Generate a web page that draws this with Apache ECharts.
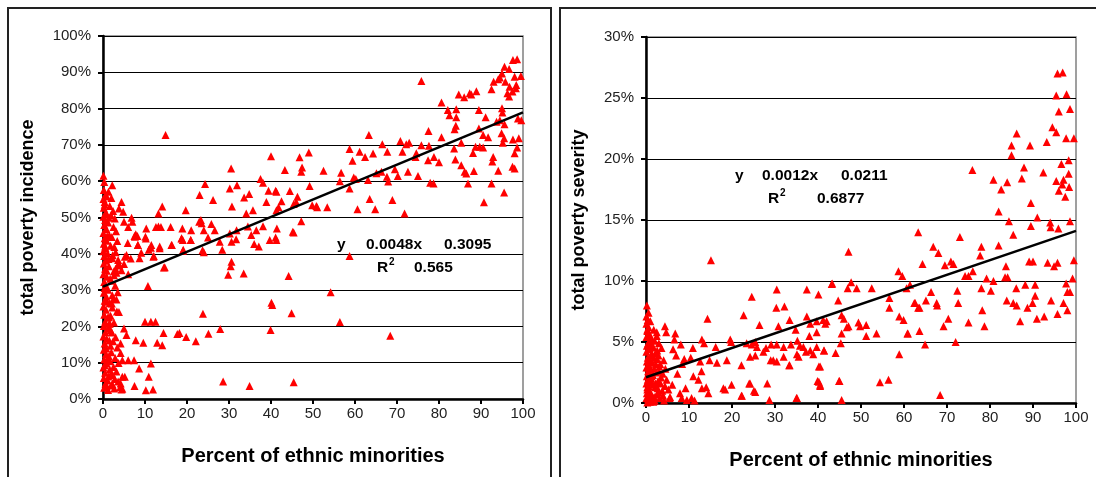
<!DOCTYPE html>
<html>
<head>
<meta charset="utf-8" />
<title>Poverty vs ethnic minorities</title>
<script src="https://cdn.jsdelivr.net/npm/echarts@6/dist/echarts.min.js"></script>
<style>
    html, body { margin: 0; padding: 0; background: #fff; }
    #chart { width: 1096px; height: 477px; }
</style>
</head>
<body>
<div id="chart"></div>
<script>
    // left panel: percent of ethnic minorities vs total poverty incidence (%)
    var incidencePoints = [
        [0.1,61.5],[0.3,59.8],[0.2,57.6],[0.6,56.2],[0.1,55.1],[0.4,54.3],[0.9,55.8],[0.2,52.7],[0.7,51.4],[0.1,50.2],
        [0.5,49.3],[1.2,48.6],[0.3,47.9],[0.8,46.8],[0.1,45.7],[1.5,45.1],[0.4,44.3],[0.9,43.6],[0.2,42.8],[1.8,42.2],
        [0.6,41.5],[0.1,40.7],[1.1,40.1],[0.3,39.4],[2.2,38.8],[0.7,38.1],[0.2,37.3],[1.4,36.6],[0.5,35.9],[2.6,35.2],
        [0.1,34.4],[0.9,33.7],[1.7,33.1],[0.3,32.2],[0.6,31.4],[1.2,30.1],[0.2,29.3],[0.8,28.2],[0.4,27.1],[1.6,26.4],
        [0.1,25.5],[0.7,24.6],[0.3,23.2],[1.1,22.4],[0.5,21.3],[0.2,20.1],[1.3,19.5],[0.6,18.4],[0.1,17.2],[0.9,16.6],
        [0.4,15.3],[1.8,14.7],[0.2,13.6],[0.7,12.4],[1.4,11.8],[0.3,10.9],[0.9,9.8],[0.1,8.7],[1.6,8.1],[0.5,7.2],
        [2.3,6.6],[0.2,5.8],[1.1,5.1],[0.6,4.3],[1.9,3.7],[0.3,3.1],[2.7,2.9],[1.2,2.5],
        [1.3,57.1],[2.0,55.4],[1.6,53.2],[2.4,51.8],[1.9,50.6],[2.8,49.7],[1.4,49.9],[2.5,47.4],[3.1,46.2],[2.1,44.6],
        [3.4,43.5],[2.7,41.9],[3.0,40.4],[2.3,39.6],[3.6,38.3],[3.9,36.8],[4.4,35.5],[3.2,34.8],[2.0,32.6],[2.9,31.2],
        [3.5,29.4],[2.5,27.6],[2.2,25.2],[3.3,24.1],[1.8,22.9],[2.6,21.1],[1.5,20.7],[2.1,18.3],[3.0,17.0],[2.4,15.9],
        [3.4,14.2],[2.0,12.9],[2.9,11.3],[1.7,10.4],[3.7,9.9],[2.5,8.8],[3.2,7.6],[1.9,6.9],[2.8,5.5],[3.6,4.8],
        [2.2,4.1],[4.1,3.3],[0.4,53.5],[0.8,50.8],[1.0,44.9],[0.5,42.0],[1.3,38.6],[0.9,35.3],[0.4,30.6],[1.0,26.8],
        [0.6,20.9],[1.5,16.1],[0.8,13.9],[1.1,11.1],[0.4,9.3],[1.3,6.2],[0.8,3.6],
        [2.2,58.9],[4.4,54.3],[3.8,52.5],[4.8,51.6],[6.8,49.9],[7.0,48.8],[5.0,48.8],[6.0,47.4],[7.8,45.4],[7.6,44.7],
        [5.9,43.0],[8.3,42.4],[10.2,44.2],[5.2,39.2],[6.6,38.7],[5.0,37.2],[3.7,37.3],[3.0,35.9],[2.6,34.1],[6.0,34.4],
        [14.5,36.2],[10.7,31.1],[2.2,28.6],[3.2,27.4],[2.1,26.3],[3.8,24.0],[1.4,22.6],[1.6,20.8],[1.8,19.0],[5.0,19.4],
        [5.6,17.6],[4.2,15.3],[4.2,12.7],[4.6,10.7],[6.0,10.7],[7.4,10.7],[8.6,8.4],[11.4,9.8],[5.2,6.1],[4.2,4.3],
        [4.4,2.6],[7.5,3.6],[10.2,2.4],[11.9,2.6],[10.9,6.1],[10.0,21.3],[11.4,21.3],[12.5,21.3],[7.8,16.2],[9.6,15.5],
        [12.9,15.5],[14.1,14.8],[14.4,18.2],[18.2,18.2],[17.7,17.9],[19.8,17.1],[22.1,15.9],[23.8,23.5],[25.1,18.0],[27.9,19.3],
        [28.6,4.8],[34.9,3.6],[4.6,6.1],[4.6,2.8],
        [14.1,53.0],[13.2,51.1],[19.7,52.0],[12.6,47.4],[13.8,47.4],[16.1,47.4],[18.7,44.2],[19.0,43.8],[20.9,43.8],[8.2,44.9],
        [11.4,41.7],[13.5,41.5],[16.3,42.4],[19.0,40.8],[12.0,39.2],[23.7,41.0],[23.0,56.2],[24.3,59.2],[22.9,48.8],[23.5,48.4],
        [26.2,54.8],[25.8,48.2],[30.5,63.5],[30.2,58.0],[31.9,58.9],[30.7,53.0],[33.6,55.5],[34.8,56.5],[34.1,51.1],[35.7,52.0],
        [37.5,60.6],[38.1,59.6],[38.9,54.3],[40.0,66.9],[39.4,57.4],[41.1,57.4],[41.3,52.0],[38.1,47.6],[23.3,49.3],[10.3,47.0],
        [13.2,47.5],[18.9,47.0],[21.0,46.5],[24.0,46.5],[26.6,46.5],[30.2,45.6],[31.8,46.5],[34.5,47.5],[36.5,46.5],[14.9,72.7],
        [5.6,39.7],[7.5,44.9],[8.3,42.4],[10.1,44.7],[8.7,38.8],[9.1,40.3],[10.9,41.1],[11.5,42.4],[12.1,39.4],[13.5,42.0],
        [14.7,36.3],[16.4,42.4],[18.7,44.3],[19.1,41.1],[20.9,43.8],[24.0,40.4],[25.0,44.5],[27.8,43.3],[28.4,41.1],[30.6,43.3],
        [31.7,44.0],[30.6,37.8],[30.4,36.6],[29.8,34.2],[33.5,34.6],[35.3,45.2],[36.0,42.7],[37.1,42.0],[39.7,43.8],
        [75.8,87.6],[80.6,81.7],[82.1,79.6],[82.5,78.2],[84.1,79.8],[84.1,77.6],[84.7,83.9],[86.0,83.1],[87.3,84.2],[87.7,83.9],
        [88.9,84.8],[89.5,79.6],[91.1,77.6],[92.5,85.3],[93.0,87.4],[94.1,88.1],[94.5,88.6],[95.0,89.7],[95.6,91.5],[96.7,90.9],
        [97.6,93.4],[98.6,93.6],[95.8,87.4],[96.8,86.0],[98.0,88.8],[98.4,86.5],[98.3,85.6],[97.5,84.7],[96.7,83.3],[96.3,84.2],
        [99.5,89.0],[95.0,80.1],[95.1,78.9],[93.7,76.4],[94.5,76.8],[95.6,75.7],[98.8,77.3],[99.6,76.8],[89.5,74.5],[91.7,72.1],
        [90.5,72.7],[94.9,73.2],[95.5,71.8],[95.2,70.6],[97.6,71.5],[99.0,71.8],[98.6,69.3],[98.0,67.7],[88.1,67.8],[88.7,69.5],
        [89.7,69.5],[90.5,69.3],[92.9,66.7],[92.7,65.4],[94.1,62.9],[97.5,64.0],[98.0,63.5],[92.5,59.4],[95.5,56.9],[90.7,54.2],
        [86.9,59.4],[85.3,64.4],[86.1,62.6],[86.5,62.1],[88.3,62.8],[83.9,66.0],[83.6,69.0],[83.7,74.3],[84.0,75.3],[85.3,70.6],
        [80.6,72.1],[80.0,65.2],[77.5,73.8],[77.6,69.8],[77.4,65.8],[78.8,66.7],[77.9,59.6],[78.7,59.4],[75.8,69.9],[74.6,67.7],
        [75.0,61.4],[74.4,66.7],[72.9,70.6],[72.2,70.2],[71.3,68.1],[70.8,71.1],[72.6,62.6],[71.8,51.1],[70.2,61.4],[69.5,63.3],
        [67.6,61.2],[67.9,59.9],[68.9,54.8],[67.7,68.1],[66.5,70.2],[64.3,67.6],[62.4,66.7],[63.3,72.7],[61.1,68.1],[66.3,62.6],
        [65.1,62.2],[63.1,60.3],[63.5,55.1],[64.8,52.3],[58.7,68.9],[59.4,65.6],[59.7,61.0],[60.2,60.6],[56.4,60.0],[56.7,62.3],
        [58.7,58.0],[60.6,52.3],[52.5,62.9],[53.4,52.8],[51.0,52.8],[50.8,53.2],[49.8,53.4],[49.2,58.7],[49.0,67.9],[46.8,66.6],
        [47.4,63.8],[47.2,62.6],[43.3,63.1],[44.5,57.3],[46.3,55.7],[46.0,54.3],[45.4,53.7],[42.5,54.5],[41.8,52.8],[41.3,57.1],
        [41.4,47.0],[47.2,49.0],[45.4,45.9],[41.1,44.5],[41.3,43.8],[45.2,46.1],[58.7,39.4],[44.2,33.9],[54.2,29.4],[40.1,26.5],
        [40.3,25.9],[44.9,23.6],[56.4,21.2],[39.9,19.0],[68.4,17.4],[45.4,4.6]
    ];
    var incidenceSlope = 0.48;      // % per point, y = 0.0048x + 0.3095
    var incidenceIntercept = 30.95;

    // right panel: percent of ethnic minorities vs total poverty severity (%)
    var severityPoints = [
        [0.2,8.0],[0.1,7.1],[0.4,6.8],[0.1,6.5],[0.6,6.2],[0.3,5.9],[0.9,5.6],[0.1,5.4],[1.3,5.2],[0.5,4.9],
        [0.2,4.7],[1.7,4.6],[0.8,4.4],[0.1,4.2],[2.2,4.1],[1.1,3.9],[0.4,3.7],[2.6,3.6],[0.2,3.4],[1.5,3.3],
        [0.7,3.1],[3.1,3.0],[0.1,2.9],[1.9,2.8],[0.5,2.6],[2.4,2.5],[0.9,2.4],[0.2,2.2],[3.5,2.1],[1.2,2.0],
        [0.4,1.9],[2.8,1.8],[0.1,1.6],[1.6,1.5],[0.6,1.4],[2.1,1.3],[0.3,1.1],[3.8,1.0],[1.0,0.9],[0.2,0.8],
        [2.5,0.7],[0.7,0.6],[1.4,0.5],[0.1,0.4],[3.2,0.4],[0.5,0.3],[2.0,0.2],[0.9,0.1],[4.2,0.2],[1.7,0.1],
        [0.3,0.05],[1.0,6.7],[1.8,6.0],[2.5,5.5],[3.0,4.9],[2.0,5.1],[3.6,4.5],[1.4,4.0],[2.9,3.9],[4.1,3.5],
        [3.3,3.2],[4.5,2.8],[2.3,3.2],[1.1,2.7],[3.9,2.4],[4.8,1.9],[1.6,2.3],[2.7,1.2],[4.4,1.4],[3.4,1.6],
        [5.2,1.1],[4.0,0.6],[5.5,0.4],[2.9,0.9],[1.3,1.7],[0.8,3.5],[0.3,6.0],[0.6,7.4],[1.2,4.8],[0.5,5.4],
        [0.9,4.5],[1.8,3.7],[0.6,2.9],[1.3,2.2],[0.3,1.3],[2.2,1.6],[0.8,0.3],[3.0,2.6],[1.9,0.5],[2.6,4.3],
        [15.1,11.7],[14.3,6.9],[2.5,5.8],[4.4,6.3],[4.7,5.8],[6.8,5.7],[24.6,8.7],[22.7,7.2],[30.4,9.3],[30.3,7.8],
        [32.2,7.9],[26.4,6.4],[33.4,6.8],[30.8,6.3],[37.4,9.3],[40.1,8.9],[37.4,7.1],[38.2,6.5],[39.7,6.7],[41.7,6.5],
        [10.9,4.5],[13.0,5.2],[13.5,4.9],[16.2,4.6],[19.6,5.2],[19.8,5.0],[23.4,4.9],[24.6,4.8],[25.4,5.0],[25.8,4.6],
        [27.9,4.5],[29.1,4.8],[30.4,4.8],[32.0,4.6],[33.7,4.8],[35.2,5.1],[35.8,4.7],[36.6,4.6],[37.2,4.2],[39.7,4.6],
        [10.4,3.7],[14.8,3.5],[16.5,3.3],[18.8,3.5],[24.2,3.8],[25.4,3.9],[27.3,4.2],[29.0,3.5],[29.6,3.5],[30.4,3.4],
        [32.0,3.8],[33.4,3.1],[35.1,4.0],[35.5,3.8],[38.2,4.3],[38.9,4.0],[41.4,4.3],[11.0,2.2],[12.2,1.9],[14.0,1.3],
        [13.0,1.2],[14.5,0.8],[18.0,1.2],[18.4,1.1],[19.9,1.5],[22.3,0.6],[24.2,1.6],[25.4,0.9],[28.2,1.6],[28.7,0.25],
        [35.1,0.4],[39.9,1.8],[40.5,1.4],[10.6,0.4],[11.3,0.2],[5.6,0.5],[7.9,0.8],[9.5,0.25],[8.3,0.4],[6.3,4.4],
        [7.0,3.9],[8.4,3.2],[8.9,3.6],[7.3,2.4],[6.1,1.5],[9.2,1.2],[12.6,3.4],[12.9,2.6],[6.6,5.2],[8.1,4.8],
        [95.7,27.0],[96.9,27.1],[95.4,25.2],[97.8,25.3],[96.0,23.9],[98.6,24.1],[94.5,22.6],[95.4,22.2],[97.7,21.7],[99.5,21.7],
        [93.2,21.4],[86.2,22.1],[85.0,21.1],[85.0,20.3],[89.3,21.1],[87.9,19.3],[75.9,19.1],[80.8,18.3],[84.0,18.1],[82.6,17.5],
        [87.4,18.4],[92.4,18.9],[96.6,19.6],[98.3,19.9],[98.3,18.8],[95.4,18.2],[97.1,18.3],[96.8,17.9],[98.4,17.7],[96.0,17.4],
        [97.5,16.9],[89.5,16.4],[82.0,15.7],[84.4,14.9],[91.0,15.2],[89.5,14.5],[94.0,14.8],[94.1,14.4],[95.9,14.3],[98.6,14.9],
        [63.3,14.0],[73.0,13.6],[85.4,13.8],[47.1,12.4],[66.8,12.8],[68.0,12.3],[78.0,12.8],[77.7,12.1],[82.0,12.9],[64.3,11.4],
        [69.5,11.3],[70.9,11.6],[71.5,11.4],[74.2,10.4],[75.0,10.4],[76.0,10.8],[58.7,10.8],[59.6,10.4],[83.7,11.2],[83.5,10.3],
        [84.1,10.3],[89.1,11.6],[90.0,11.6],[93.4,11.5],[94.9,11.2],[95.7,11.5],[99.5,11.7],[79.2,10.2],[80.8,10.0],[43.3,9.8],
        [47.7,9.9],[90.5,9.7],[97.7,9.8],[99.2,10.2],[46.9,9.4],[49.0,9.4],[52.5,9.4],[60.6,9.4],[61.4,9.7],[66.3,9.1],
        [72.4,9.2],[78.0,9.4],[80.2,9.2],[86.1,9.4],[88.2,9.7],[98.0,9.1],[98.6,9.1],[44.7,8.4],[56.6,8.6],[56.6,7.8],
        [62.4,8.2],[65.1,8.4],[67.6,8.2],[67.7,8.0],[72.6,8.2],[63.6,7.8],[83.9,8.4],[85.4,8.2],[86.2,8.0],[88.7,7.8],
        [89.9,8.2],[90.5,8.8],[94.2,8.4],[97.1,8.2],[78.2,7.6],[45.5,7.2],[46.0,6.9],[58.9,7.1],[59.9,6.8],[70.3,6.9],
        [75.0,6.6],[87.0,6.7],[90.9,6.9],[92.6,7.1],[95.7,7.3],[98.0,7.6],[42.0,6.7],[41.2,6.8],[47.1,6.3],[46.7,6.2],
        [49.4,6.6],[49.8,6.3],[51.2,6.4],[53.6,5.7],[51.2,5.5],[60.8,5.7],[63.6,5.9],[69.2,6.3],[78.7,6.3],[45.5,5.7],
        [45.3,4.9],[64.9,4.8],[72.0,5.0],[41.4,4.3],[44.1,4.1],[58.9,4.0],[40.5,3.0],[40.5,1.5],[44.9,1.8],[54.4,1.7],
        [56.4,1.9],[68.4,0.65],[45.5,0.25],[43.2,9.75],[34.8,6.0],[39.7,5.8],[38.0,5.5],[22.2,3.1],[33.3,3.1],[40.2,3.0],
        [24.0,1.6],[25.1,1.0],[40.2,1.75],[45.0,1.8],[22.2,0.6],[35.0,0.4],[62.6,8.2],[63.3,7.8],[60.9,5.7]
    ];
    var severitySlope = 0.12;       // y = 0.0012x + 0.0211
    var severityIntercept = 2.11;

    var FONT = 'Liberation Sans, Arial, sans-serif';

    function trendData(m, b) {
        return [[0, b], [100, b + 100 * m]];
    }

    function xAxisFor(gridIndex) {
        return {
            gridIndex: gridIndex, type: 'value', min: 0, max: 100, interval: 10,
            name: 'Percent of ethnic minorities', nameLocation: 'middle', nameGap: 47,
            nameTextStyle: { fontFamily: FONT, fontSize: 20, fontWeight: 'bold', color: '#000' },
            axisLine: { lineStyle: { color: '#000', width: 2.5 } },
            axisTick: { show: true, length: 5, inside: false, lineStyle: { color: '#000', width: 2 } },
            axisLabel: { fontFamily: FONT, fontSize: 15, color: '#222', margin: 7 },
            splitLine: { show: false }
        };
    }

    function yAxisFor(gridIndex, max, interval, name, gap) {
        return {
            gridIndex: gridIndex, type: 'value', min: 0, max: max, interval: interval,
            name: name, nameLocation: 'middle', nameGap: gap,
            nameTextStyle: { fontFamily: FONT, fontSize: 18, fontWeight: 'bold', color: '#000' },
            axisLine: { show: true, lineStyle: { color: '#000', width: 2.5 } },
            axisTick: { show: true, length: 5, inside: false, lineStyle: { color: '#000', width: 2 } },
            axisLabel: { fontFamily: FONT, fontSize: 15, color: '#222', margin: 12, formatter: '{value}%' },
            splitLine: { show: true, lineStyle: { color: '#000', width: 1 } }
        };
    }

    function eqText(x, y, text, size) {
        return {
            type: 'text', x: x, y: y,
            style: { text: text, fontFamily: FONT, fontSize: size || 15.5, fontWeight: 'bold', fill: '#000',
                     textAlign: 'left', textVerticalAlign: 'middle' }
        };
    }

    var chart = echarts.init(document.getElementById('chart'), null, { renderer: 'canvas' });
    chart.setOption({
        animation: false,
        grid: [
            { left: 103, top: 36, width: 420, height: 363, show: true, borderColor: '#808080', borderWidth: 1.5, backgroundColor: 'transparent' },
            { left: 646, top: 37, width: 430, height: 366, show: true, borderColor: '#808080', borderWidth: 1.5, backgroundColor: 'transparent' }
        ],
        xAxis: [xAxisFor(0), xAxisFor(1)],
        yAxis: [
            yAxisFor(0, 100, 10, 'total poverty incidence', 66),
            yAxisFor(1, 30, 5, 'total poverty severity', 58)
        ],
        graphic: [
            { type: 'rect', shape: { x: 8, y: 8, width: 543, height: 480 }, style: { fill: 'none', stroke: '#222', lineWidth: 2 }, z: -1 },
            { type: 'rect', shape: { x: 560, y: 8, width: 560, height: 480 }, style: { fill: 'none', stroke: '#222', lineWidth: 2 }, z: -1 },
            eqText(337, 245, 'y'),
            eqText(366, 245, '0.0048x'),
            eqText(444, 245, '0.3095'),
            eqText(377, 268, 'R'),
            eqText(389, 262, '2', 10),
            eqText(414, 268, '0.565'),
            eqText(735, 176, 'y'),
            eqText(762, 176, '0.0012x'),
            eqText(841, 176, '0.0211'),
            eqText(768, 199, 'R'),
            eqText(780, 193, '2', 10),
            eqText(817, 199, '0.6877')
        ],
        series: [
            {
                type: 'scatter', xAxisIndex: 0, yAxisIndex: 0, data: incidencePoints,
                symbol: 'triangle', symbolSize: 8, itemStyle: { color: '#ff0000', opacity: 1 },
                emphasis: { disabled: true }
            },
            {
                type: 'line', xAxisIndex: 0, yAxisIndex: 0, data: trendData(incidenceSlope, incidenceIntercept),
                showSymbol: false, lineStyle: { color: '#000', width: 2.5 }, z: 5
            },
            {
                type: 'scatter', xAxisIndex: 1, yAxisIndex: 1, data: severityPoints,
                symbol: 'triangle', symbolSize: 8, itemStyle: { color: '#ff0000', opacity: 1 },
                emphasis: { disabled: true }
            },
            {
                type: 'line', xAxisIndex: 1, yAxisIndex: 1, data: trendData(severitySlope, severityIntercept),
                showSymbol: false, lineStyle: { color: '#000', width: 2.5 }, z: 5
            }
        ]
    });
</script>
</body>
</html>
